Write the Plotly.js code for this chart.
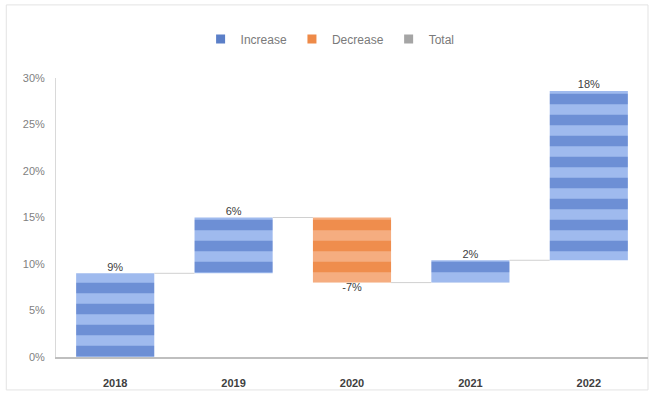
<!DOCTYPE html>
<html>
<head>
<meta charset="utf-8">
<script src="https://cdn.plot.ly/plotly-3.0.1.min.js"></script>
<style>html,body{margin:0;padding:0;background:#fff;}#chart{width:653px;height:394px;}</style>
</head>
<body>
<div id="chart"></div>
<script>
// Data
const categories = ["2018", "2019", "2020", "2021", "2022"];
const changes = [9.0, 6.0, -7.0, 2.4, 18.2];   // percent change per year
const yTickVals = [0, 5, 10, 15, 20, 25, 30];
const yTickText = ["0%", "5%", "10%", "15%", "20%", "25%", "30%"];
const legendNames = ["Increase", "Decrease", "Total"];

// Derived
const idx = categories.map((_, i) => i);
const starts = [], ends = [];
let run = 0;
changes.forEach(v => { starts.push(run); run += v; ends.push(run); });

const BW = 0.66;
const blueDark = "#6d8fd5", blueLight = "#9fbaee";
const orDark = "#ef8d4d", orLight = "#f5ad80";

const incX = [], incY = [], incB = [], decX = [], decY = [], decB = [];
changes.forEach((v, i) => {
  if (v >= 0) { incX.push(i); incY.push(v); incB.push(starts[i]); }
  else { decX.push(i); decY.push(v); decB.push(starts[i]); }
});

const traces = [];
traces.push({
  type: "bar", x: incX, y: incY, base: incB, width: BW, showlegend: false,
  marker: { color: blueDark, line: { width: 0 },
    pattern: { shape: "-", size: 21, solidity: 0.5, fgcolor: blueLight, bgcolor: blueDark, fillmode: "replace" } },
  hoverinfo: "skip"
});
traces.push({
  type: "bar", x: decX, y: decY, base: decB, width: BW, showlegend: false,
  marker: { color: orDark, line: { width: 0 },
    pattern: { shape: "-", size: 21, solidity: 0.5, fgcolor: orLight, bgcolor: orDark, fillmode: "replace" } },
  hoverinfo: "skip"
});

// Connectors
for (let i = 0; i < categories.length - 1; i++) {
  traces.push({
    type: "scatter", mode: "lines", x: [i + BW / 2, i + 1 - BW / 2], y: [ends[i], ends[i]],
    line: { color: "#d0d0d0", width: 1 }, showlegend: false, hoverinfo: "skip"
  });
}

// Data labels
const lblX = [], lblY = [], lblT = [], lblPos = [];
changes.forEach((v, i) => {
  lblX.push(i);
  lblY.push(ends[i]);
  lblT.push(Math.round(v) + "%");
  lblPos.push(v >= 0 ? "top center" : "bottom center");
});
traces.push({
  type: "scatter", mode: "text", x: lblX, y: lblY, text: lblT, textposition: lblPos,
  textfont: { family: "Liberation Sans, Arial, sans-serif", size: 11, color: "#404040" },
  showlegend: false, hoverinfo: "skip", cliponaxis: false
});

// Legend-only traces
const legColors = ["#5b7fc8", "#ee8a48", "#a5a5a5"];
legendNames.forEach((n, k) => {
  traces.push({ type: "scatter", mode: "markers", x: [null], y: [null], name: n,
    marker: { color: legColors[k], symbol: "square", size: 9 }, showlegend: true });
});

const layout = {
  width: 653, height: 394,
  margin: { l: 56, r: 5, t: 78, b: 37 },
  paper_bgcolor: "#ffffff", plot_bgcolor: "#ffffff",
  barmode: "overlay",
  font: { family: "Liberation Sans, Arial, sans-serif", size: 11, color: "#595959" },
  showlegend: true,
  legend: { orientation: "h", x: 0.463, xanchor: "center", y: 1.14, yanchor: "middle",
    font: { size: 12, color: "#7a7a7a" }, itemwidth: 30, traceorder: "normal" },
  xaxis: {
    range: [-0.5, 4.5], tickvals: idx, ticktext: categories, showgrid: false, zeroline: false,
    showline: true, linecolor: "#bfbfbf", linewidth: 1.5, ticks: "", ticklabelstandoff: 15,
    tickfont: { size: 11, color: "#404040", family: "Liberation Sans, Arial, sans-serif", weight: "bold" }, fixedrange: true
  },
  yaxis: {
    range: [0, 30], tickvals: yTickVals, ticktext: yTickText, showgrid: false, zeroline: false,
    showline: true, linecolor: "#d9d9d9", linewidth: 1, ticks: "", ticklabelstandoff: 8,
    tickfont: { size: 11, color: "#7f7f7f" }, fixedrange: true
  },
  shapes: [
    { type: "rect", xref: "paper", yref: "paper", x0: -0.084, x1: 1.0, y0: -0.118, y1: 1.262,
      line: { color: "#e3e3e3", width: 1 }, fillcolor: "rgba(0,0,0,0)", layer: "below" }
  ]
};

Plotly.newPlot("chart", traces, layout, { displayModeBar: false, staticPlot: true });
</script>
</body>
</html>
